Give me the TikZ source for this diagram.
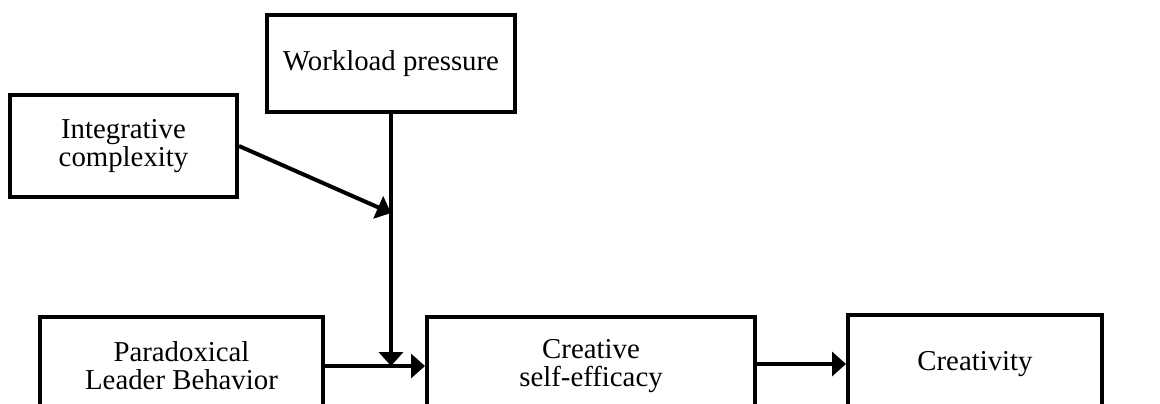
\documentclass[tikz,border=0pt]{standalone}
\usepackage{fontspec}
\setmainfont{Liberation Serif}
\usetikzlibrary{arrows.meta}
\begin{document}
\begin{tikzpicture}[x=0.5pt,y=-0.5pt,
  box/.style={draw=black,line width=2pt,align=center,inner sep=0pt,
    font=\fontsize{14.4pt}{14pt}\selectfont},
  conn/.style={line width=2pt,-{Triangle[length=7pt,width=12pt]}}]
\useasboundingbox (0,0) rectangle (1160,403);
\clip (0,0) rectangle (1160,403);
\node[box,minimum width=124pt,minimum height=48.5pt] (wl) at (391,63.5) {Workload pressure};
\node[box,minimum width=113.5pt,minimum height=51pt] (ic) at (123.5,146) {Integrative\\complexity};
\node[box,minimum width=141.5pt,minimum height=49pt] (pl) at (181.5,366) {Paradoxical\\Leader Behavior};
\node[box,minimum width=164pt,minimum height=49pt] (cse) at (591,366) {Creative\\self-efficacy};
\node[box,minimum width=127pt,minimum height=49pt] (cr) at (975,364) {Creativity};
\coordinate (m) at (391,366);
\coordinate (k) at (391,213);
\draw[conn] (pl) -- (cse);
\draw[conn] (cse.east |- cr.west) -- (cr.west);
\draw[conn] (wl.south) -- (m);
\draw[conn] (ic.east) -- (k);
\end{tikzpicture}
\end{document}
